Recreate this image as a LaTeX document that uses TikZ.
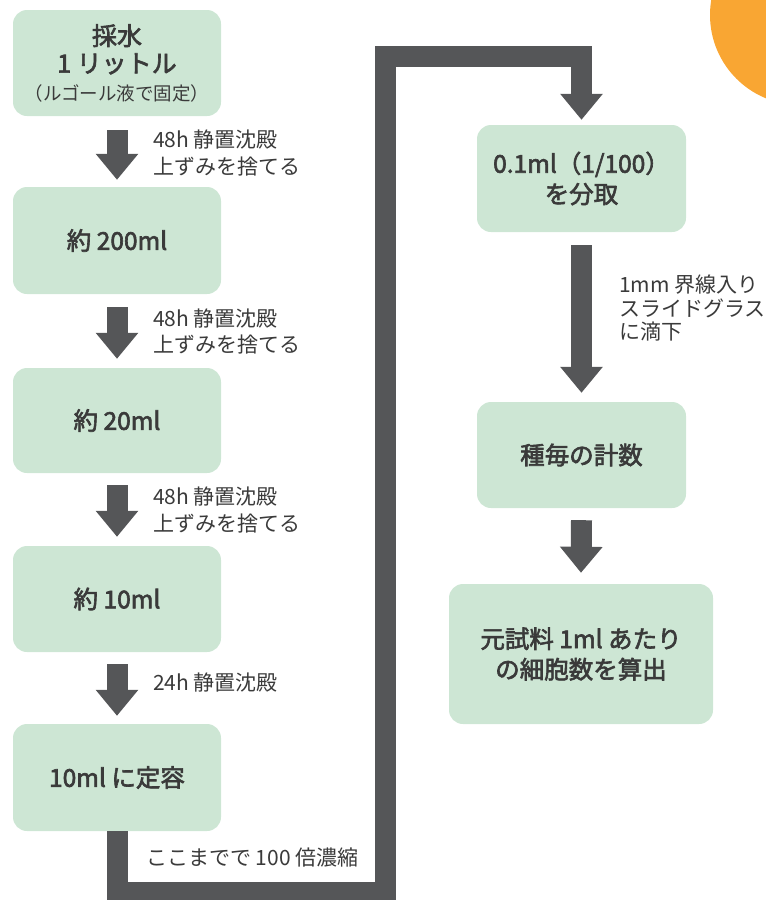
\documentclass[tikz,border=0pt]{standalone}
\usepackage{fontspec}
\setmainfont{Noto Sans CJK JP}
\newfontfamily\semib[FakeBold=2.5]{Noto Sans CJK JP}
\usetikzlibrary{arrows.meta}
\definecolor{boxg}{HTML}{CDE6D4}
\definecolor{arr}{HTML}{555658}
\definecolor{txt}{HTML}{3A3A3A}
\definecolor{blob}{HTML}{F9A633}
\tikzset{
  stepbox/.style={rounded corners=14pt, fill=boxg, minimum width=208pt, minimum height=106pt,
    align=center, text=txt, inner sep=2pt, font=\semib\fontsize{24.5}{30.5}\selectfont},
  bigarrow/.style={draw=arr, line width=21pt, -{Triangle[width=41pt,length=26pt]}},
  lbl/.style={anchor=west, text=txt, align=left, inner sep=0pt, font=\fontsize{21}{26.5}\selectfont}
}
\begin{document}
\begin{tikzpicture}[x=1pt,y=-1pt]
\useasboundingbox (0,0) rectangle (766,900);
\begin{scope}
\clip (0,0) rectangle (766,900);
\fill[blob] (800,15) circle (90);
% left column
\node[stepbox, font=\semib\fontsize{25}{27.5}\selectfont] (b1) at (117,63) {採水\\1 リットル\\{\normalfont\fontsize{18.5}{20}\selectfont （ルゴール液で固定）}};
\node[stepbox, minimum height=107pt] (b2) at (117,240.5) {約 200ml};
\node[stepbox, minimum height=105pt] (b3) at (117,420.5) {約 20ml};
\node[stepbox] (b4) at (117,599) {約 10ml};
\node[stepbox, minimum height=107pt] (b5) at (117,777.5) {10ml に定容};
% right column
\node[stepbox, minimum width=209pt, minimum height=107pt] (bA) at (581.5,178.5) {0.1ml（1/100）\\を分取};
\node[stepbox, minimum width=209pt, minimum height=106pt] (bB) at (581.5,455) {種毎の計数};
\node[stepbox, minimum width=264pt, minimum height=140pt] (bC) at (581,654) {元試料 1ml あたり\\の細胞数を算出};
% left arrows
\draw[bigarrow] ([yshift=-14pt]b1.south) -- ([yshift=7pt]b2.north);
\draw[bigarrow] ([yshift=-13pt]b2.south) -- ([yshift=9pt]b3.north);
\draw[bigarrow] ([yshift=-12pt]b3.south) -- ([yshift=9pt]b4.north);
\draw[bigarrow] ([yshift=-12pt]b4.south) -- ([yshift=8pt]b5.north);
% labels
\node[lbl] (l1) at (153,153) {48h 静置沈殿\\上ずみを捨てる};
\node[lbl] (l2) at (153,331.5) {48h 静置沈殿\\上ずみを捨てる};
\node[lbl] (l3) at (153,510) {48h 静置沈殿\\上ずみを捨てる};
\node[lbl] (l4) at (153,683) {24h 静置沈殿};
\node[lbl] (l5) at (146,857) {ここまでで 100 倍濃縮};
\node[lbl, font=\fontsize{21}{23.5}\selectfont] (l6) at (619,308) {1mm 界線入り\\スライドグラス\\に滴下};
% big connector
\coordinate (c1) at (117,892);
\coordinate (c2) at (385,892);
\coordinate (c3) at (385,56);
\coordinate (c4) at (581.5,56);
\draw[bigarrow] (b5.south) -- (c1) -- (c2) -- (c3) -- (c4) -- ([yshift=5pt]bA.north);
% right arrows
\draw[bigarrow] ([yshift=-13pt]bA.south) -- ([yshift=9pt]bB.north);
\draw[bigarrow] ([yshift=-12pt]bB.south) -- ([yshift=11pt]bC.north);
\end{scope}
\end{tikzpicture}
\end{document}
